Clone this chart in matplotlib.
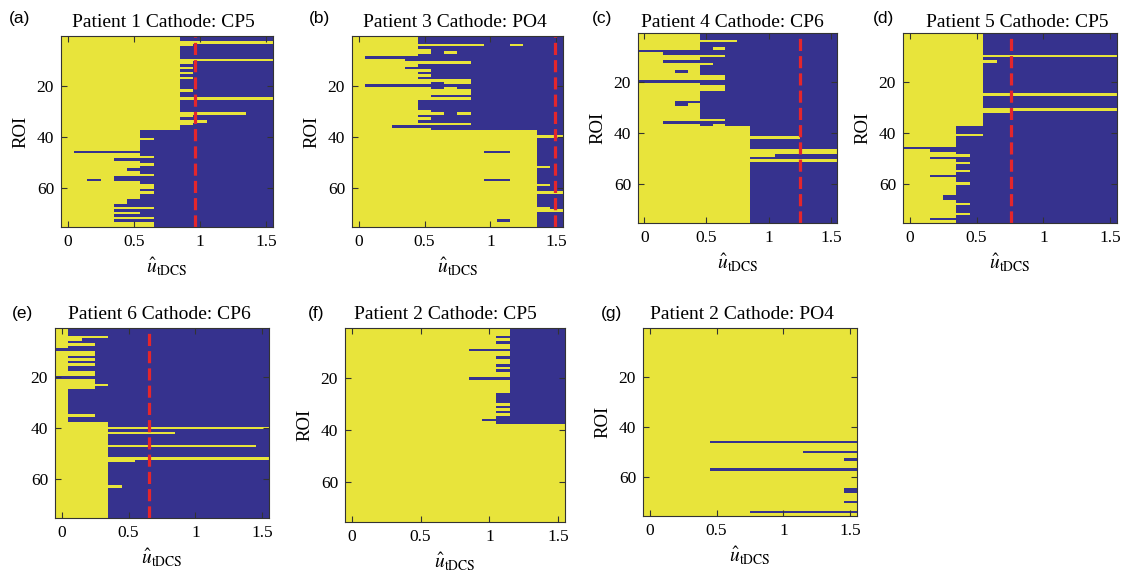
import numpy as np
import matplotlib
matplotlib.use("Agg")
import matplotlib.pyplot as plt
from matplotlib.colors import ListedColormap

plt.rcParams["font.family"] = "Liberation Serif"
plt.rcParams["mathtext.fontset"] = "stix"

# ── Data ──────────────────────────────────────────────────────────────────────
# stimulation grid (columns) and ROI count (rows)
U_GRID = [0.0, 0.1, 0.2, 0.3, 0.4, 0.5, 0.6, 0.7,
          0.8, 0.9, 1.0, 1.1, 1.2, 1.3, 1.4, 1.5]
N_ROI = 75

# number of leading "yellow" grid points per ROI; SPECIAL_* holds rows
# that are not a single yellow run ("1" = yellow, "0" = blue)
CUT_A = [9, 9, 16, 10, 9, 9, 9, 9, 9, 16,
         10, 9, 10, 9, 10, 9, 10, 9, 9, 9,
         9, 10, 9, 9, 16, 9, 9, 9, 9, 9,
         14, 10, 9, 11, 10, 9, 9, 6, 6, 6,
         7, 6, 6, 6, 6, 1, 6, 7, 4, 6,
         7, 6, 5, 6, 7, 4, 4, 6, 7, 7,
         6, 7, 6, 6, 5, 5, 4, 7, 4, 6,
         4, 7, 4, 7, 7]
SPECIAL_A = {57: "1101000000000000"}

CUT_B = [5, 5, 5, 10, 5, 6, 6, 5, 1, 4,
         9, 5, 4, 6, 5, 6, 5, 9, 6, 1,
         6, 9, 9, 6, 9, 5, 5, 5, 5, 6,
         7, 5, 6, 5, 9, 3, 6, 14, 14, 16,
         14, 14, 14, 14, 14, 10, 14, 14, 14, 14,
         14, 15, 14, 14, 14, 14, 10, 14, 15, 14,
         14, 16, 14, 14, 14, 14, 14, 15, 16, 14,
         14, 14, 11, 14, 14]
SPECIAL_B = {4: "1111111111001000", 7: "1111110100000000",
             19: "1111110110000000", 21: "1111110100000000",
             31: "1111111010000000", 46: "1111111111001100",
             57: "1111111111001100", 73: "1111111111101100"}

CUT_C = [5, 5, 5, 8, 5, 5, 5, 0, 2, 7,
         5, 2, 6, 5, 5, 3, 5, 7, 7, 0,
         5, 7, 7, 5, 5, 5, 5, 3, 3, 5,
         5, 5, 5, 5, 7, 2, 5, 9, 9, 9,
         9, 13, 9, 9, 9, 9, 16, 16, 11, 9,
         16, 9, 9, 9, 9, 9, 9, 9, 9, 9,
         9, 9, 9, 9, 9, 9, 9, 9, 9, 9,
         9, 9, 9, 9, 9]
SPECIAL_C = {7: "1111101000000000", 16: "1110100000000000",
             29: "1110100000000000", 37: "1111101000000000"}

CUT_D = [6, 6, 6, 6, 6, 6, 6, 6, 6, 16,
         6, 7, 6, 6, 6, 6, 6, 6, 6, 6,
         6, 6, 6, 6, 16, 6, 6, 6, 6, 6,
         16, 8, 6, 6, 6, 6, 6, 4, 4, 4,
         6, 4, 4, 4, 4, 0, 2, 4, 5, 2,
         4, 5, 4, 4, 5, 4, 2, 4, 4, 5,
         4, 4, 4, 4, 3, 3, 4, 5, 4, 4,
         4, 5, 4, 2, 4]
SPECIAL_D = {}

CUT_E = [1, 1, 1, 4, 2, 1, 3, 1, 0, 3,
         3, 1, 3, 1, 3, 1, 1, 3, 3, 0,
         3, 3, 4, 3, 1, 1, 1, 1, 1, 1,
         1, 1, 1, 1, 3, 1, 1, 4, 4, 16,
         4, 9, 4, 4, 4, 4, 15, 4, 4, 4,
         4, 16, 6, 4, 4, 4, 4, 4, 4, 4,
         4, 4, 5, 4, 4, 4, 4, 4, 4, 4,
         4, 4, 4, 4, 4]
SPECIAL_E = {}

CUT_F = [12, 12, 12, 11, 12, 11, 12, 12, 9, 12,
         12, 11, 12, 12, 11, 12, 11, 12, 12, 9,
         12, 12, 12, 12, 12, 11, 11, 11, 11, 12,
         11, 12, 11, 12, 11, 10, 11, 16, 16, 16,
         16, 16, 16, 16, 16, 16, 16, 16, 16, 16,
         16, 16, 16, 16, 16, 16, 16, 16, 16, 16,
         16, 16, 16, 16, 16, 16, 16, 16, 16, 16,
         16, 16, 16, 16, 16]
SPECIAL_F = {}

CUT_G = [16, 16, 16, 16, 16, 16, 16, 16, 16, 16,
         16, 16, 16, 16, 16, 16, 16, 16, 16, 16,
         16, 16, 16, 16, 16, 16, 16, 16, 16, 16,
         16, 16, 16, 16, 16, 16, 16, 16, 16, 16,
         16, 16, 16, 16, 16, 5, 16, 16, 16, 12,
         16, 16, 15, 16, 16, 16, 5, 16, 16, 16,
         16, 16, 16, 16, 15, 15, 16, 16, 16, 15,
         16, 16, 16, 8, 16]
SPECIAL_G = {}

LABELS = ["(a)", "(b)", "(c)", "(d)", "(e)", "(f)", "(g)"]
TITLES = ["Patient 1 Cathode: CP5", "Patient 3 Cathode: PO4",
          "Patient 4 Cathode: CP6", "Patient 5 Cathode: CP5",
          "Patient 6 Cathode: CP6", "Patient 2 Cathode: CP5",
          "Patient 2 Cathode: PO4"]
RED_LINE = [0.96, 1.49, 1.25, 0.76, 0.655, None, None]
CUTS = [CUT_A, CUT_B, CUT_C, CUT_D, CUT_E, CUT_F, CUT_G]
SPECIALS = [SPECIAL_A, SPECIAL_B, SPECIAL_C, SPECIAL_D,
            SPECIAL_E, SPECIAL_F, SPECIAL_G]

# ── Layout (pixels of the 1126x577 canvas) ───────────────────────────────────
W, H = 1126, 577
AX_BOX = [(61, 36, 273, 227), (352, 36, 563, 227), (638, 33, 837, 223),
          (903, 33, 1117, 223), (55, 328, 269, 518), (345, 328, 565, 522),
          (643, 328, 857, 516)]
LABEL_XY = [(20, 23), (320, 23), (602, 23), (884, 23),
            (22, 318), (316, 318), (611, 318)]
TITLE_XY = [(163, 27), (455, 27), (732, 27), (1017, 27),
            (159, 319), (445, 319), (742, 319)]
SHOW_YLABEL = [True, True, True, True, False, True, True]

YELLOW = "#e8e43b"
BLUE = "#36328e"
cmap = ListedColormap([BLUE, YELLOW])


def build(cuts, special):
    assert len(cuts) == N_ROI
    m = np.zeros((N_ROI, len(U_GRID)))
    for i, c in enumerate(cuts):
        m[i, :c] = 1
    for r, pat in special.items():
        m[r - 1] = [ch == "1" for ch in pat]
    return m


fig = plt.figure(figsize=(W / 100, H / 100), dpi=100)
du = U_GRID[1] - U_GRID[0]

for i in range(7):
    x0, y0, x1, y1 = AX_BOX[i]
    ax = fig.add_axes([x0 / W, 1 - y1 / H, (x1 - x0) / W, (y1 - y0) / H])
    m = build(CUTS[i], SPECIALS[i])
    ax.imshow(m, cmap=cmap, vmin=0, vmax=1, aspect="auto",
              interpolation="nearest",
              extent=(U_GRID[0] - du / 2, U_GRID[-1] + du / 2,
                      N_ROI + 0.5, 0.5))
    if RED_LINE[i] is not None:
        ax.axvline(RED_LINE[i], color="#e4262c", lw=2.3, ls=(0, (3.8, 1.6)))

    ax.set_xticks([0, 0.5, 1, 1.5])
    ax.set_xticklabels(["0", "0.5", "1", "1.5"])
    ax.set_yticks([20, 40, 60])
    ax.tick_params(direction="in", top=True, right=True, length=4,
                   width=0.8, labelsize=12.5, pad=5, color="#333333")
    for sp in ax.spines.values():
        sp.set_linewidth(0.8)
        sp.set_color("#333333")
    ax.set_xlabel(r"$\hat{u}_{\mathrm{tDCS}}$", fontsize=14, labelpad=4)
    if SHOW_YLABEL[i]:
        ax.set_ylabel("ROI", fontsize=13.5, labelpad=5)

    fig.text(LABEL_XY[i][0] / W, 1 - LABEL_XY[i][1] / H, LABELS[i],
             family="Liberation Sans", fontsize=12.5, ha="center",
             va="baseline")
    fig.text(TITLE_XY[i][0] / W, 1 - TITLE_XY[i][1] / H, TITLES[i],
             fontsize=14, ha="center", va="baseline")

fig.savefig("out.png", dpi=100)
